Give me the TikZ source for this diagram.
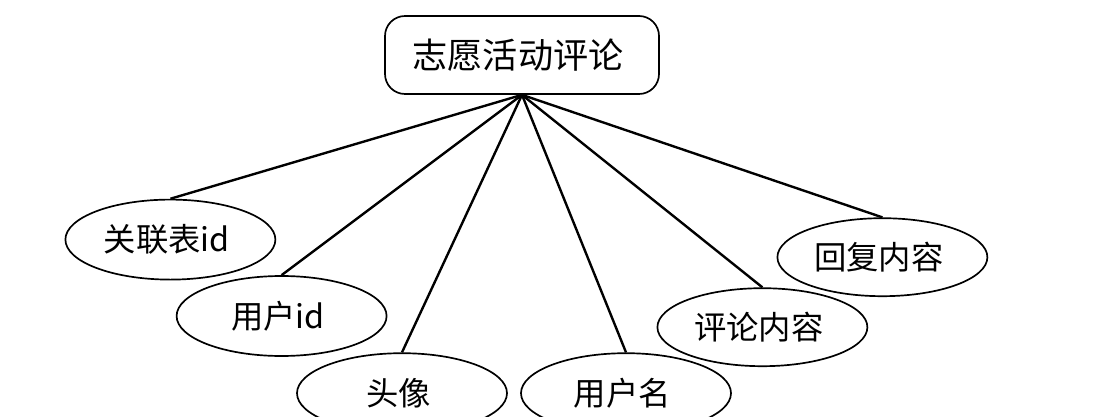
\documentclass[tikz,border=0pt]{standalone}
\usepackage{fontspec}
\newfontfamily\erCJK{Noto Sans CJK SC}
\providecommand{\erColorEntity}{white}
\providecommand{\erColorAttr}{white}
\providecommand{\erStroke}{black}
\usetikzlibrary{shapes.geometric}
\tikzset{
  ent/.style args={#1/#2}{draw=\erStroke,rounded corners=0.5cm,line width=1.2pt,fill=\erColorEntity,minimum width=#1,minimum height=#2,inner sep=0pt,align=center,font=\erCJK\fontsize{25pt}{29pt}\selectfont},
  % attribute ellipse, size passed as width/height
  attr/.style args={#1/#2}{draw=\erStroke,ellipse,line width=1.2pt,fill=\erColorAttr,minimum width=#1,minimum height=#2,inner sep=0pt,align=center,font=\erCJK\fontsize{23pt}{27pt}\selectfont},
  conn/.style={draw=\erStroke,line width=1.7pt},
}
\begin{document}
\begin{tikzpicture}
\useasboundingbox (0.00cm,0.00cm) rectangle (27.65cm,-10.425cm);
% --- Primitive nodes -------------------------------------------------------

  \node[ent=6.85cm/1.95cm] (cmt) at (13.05cm,-1.375cm) { 志愿活动评论 };

  \node[attr=5.25cm/2.00cm] (relid) at (4.26cm,-5.99cm) { 关联表id };

  \node[attr=5.25cm/2.00cm] (uid) at (7.04cm,-7.90cm) { 用户id };

  \node[attr=5.25cm/2.00cm] (avatar) at (10.05cm,-9.83cm) { 头像 };

  \node[attr=5.25cm/2.00cm] (uname) at (15.65cm,-9.83cm) { 用户名 };

  \node[attr=5.25cm/1.95cm] (body) at (19.06cm,-8.18cm) { 评论内容 };

  \node[attr=5.25cm/1.95cm] (reply) at (22.06cm,-6.43cm) { 回复内容 };

% --- Edges -----------------------------------------------------------------

  \path[conn] (cmt.south) -- (relid.north);

  \path[conn] (cmt.south) -- (uid.north);

  \path[conn] (cmt.south) -- (avatar.north);

  \path[conn] (cmt.south) -- (uname.north);

  \path[conn] (cmt.south) -- (body.north);

  \path[conn] (cmt.south) -- (reply.north);

\end{tikzpicture}
\end{document}
